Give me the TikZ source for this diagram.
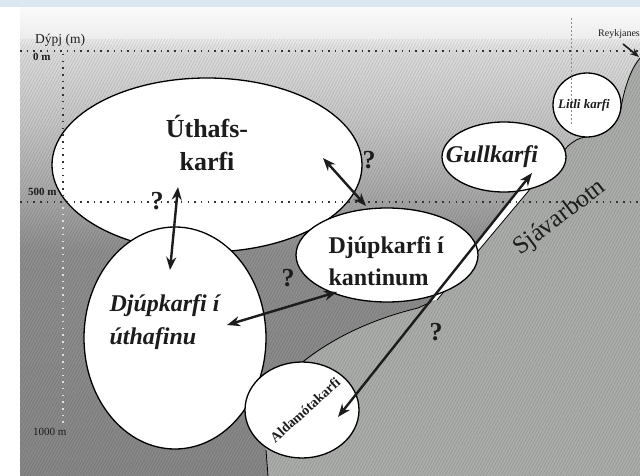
\documentclass[tikz,border=0pt]{standalone}
\usepackage{fontspec}
\setmainfont{Liberation Serif}
\usetikzlibrary{shapes.geometric,arrows.meta,patterns.meta}

\definecolor{bandblue}{HTML}{DCE8F1}
\definecolor{seabed}{HTML}{ABADAA}
\definecolor{ink}{HTML}{1C1C1C}
\definecolor{sdA}{HTML}{878787}
\definecolor{sdB}{HTML}{8E8E8E}
\definecolor{sdC}{HTML}{A6A6A6}
\definecolor{sdD}{HTML}{C6C6C6}
\definecolor{sdE}{HTML}{DADADA}
\definecolor{sdF}{HTML}{EEEEEE}
\definecolor{sdG}{HTML}{FAFAFA}

% water darkens with depth (listed bottom to top)
\pgfdeclareverticalshading{seadepth}{100bp}{color(0bp)=(sdA); color(25bp)=(sdA); color(49bp)=(sdB); color(54.5bp)=(sdC); color(63bp)=(sdD); color(70bp)=(sdE); color(72bp)=(sdF); color(75bp)=(sdG); color(100bp)=(sdG)}

\begin{document}
\begin{tikzpicture}[x=1pt,y=-1pt,
  blob/.style={ellipse,draw=black,fill=white,line width=1.3pt,inner sep=0pt},
  link/.style={ink,line width=2.4pt,>={Stealth[length=13pt,width=10pt]},<->},
  depthline/.style={line width=1.5pt,dash pattern=on 1.5pt off 5.2pt,draw=black!80},
  edgeline/.style={draw=black,line width=0.8pt},
  qmark/.style={font=\fontsize{26}{26}\selectfont\bfseries,text=ink,inner sep=0pt},
  bigbold/.style={font=\fontsize{24}{32}\selectfont\bfseries,text=ink},
  bigboldit/.style={font=\fontsize{24}{33}\selectfont\bfseries\itshape,text=ink},
  axislabel/.style={font=\fontsize{11}{11}\selectfont,text=ink,inner sep=0pt,anchor=west},
]
\useasboundingbox (0,0) rectangle (640,476);
\fill[white] (0,0) rectangle (640,476);
\fill[bandblue] (0,0) rectangle (640,7);

% water column
\shade[shading=seadepth] (20,8) rectangle (640,476);

% sea floor
\fill[seabed] (640,48) -- (640,476) -- (268,476) -- (266,449) -- (262,420) -- (300,366)
  .. controls (322,346) and (360,322) .. (418,308) -- (431,302) -- (437,300) -- (531,188) -- (568,146)
  .. controls (574,141) and (578,138) .. (586,137)
  .. controls (606,134) and (618,124) .. (621,108)
  .. controls (624,90) and (630,70) .. (640,58) -- cycle;

% faint print texture
\begin{scope}[transparency group,opacity=0.14]
  \fill[pattern={Lines[angle=62,distance=2.6pt,line width=0.5pt]},pattern color=black]
    (20,40) rectangle (640,476);
\end{scope}

% sea floor outline
\draw[edgeline] (266,450) -- (268,476);
\draw[edgeline] (300,364) .. controls (322,346) and (360,322) .. (418,308) -- (431,302);
\fill[white] (430,301) -- (522,186) -- (531,188) -- (437,300) -- cycle;
\draw[edgeline] (437,300) -- (531,188) -- (568,146);
\draw[edgeline] (568,146) .. controls (574,141) and (578,138) .. (586,137)
  .. controls (606,134) and (618,124) .. (621,108)
  .. controls (624,90) and (630,70) .. (640,58);

% population areas
\node[blob,minimum width=310pt,minimum height=174pt] (uthafs) at (207,165) {};
\node[blob,minimum width=182pt,minimum height=222pt] (uthafinu) at (175,338) {};
\node[blob,minimum width=182pt,minimum height=94pt] (kant) at (387,255) {};
\node[blob,minimum width=114pt,minimum height=96pt] (alda) at (302,410) {};
\node[blob,minimum width=124pt,minimum height=70pt] (gull) at (504,157) {};
\node[blob,minimum width=68pt,minimum height=64pt] (litli) at (587,105) {};

% depth grid
\draw[depthline] (20,51) -- (640,51);
\draw[depthline] (20,202) -- (640,202);
\draw[depthline] (63,54) -- (63,200);
\draw[depthline,draw=white!88!black] (63,207) -- (63,428);
\draw[black!45,line width=0.5pt,dash pattern=on 2pt off 2pt] (571,18) -- (571,126);

% labels
\node[font=\fontsize{26}{33}\selectfont\bfseries,text=ink,align=center] (t-uthafs) at (207,143) {Úthafs-\\karfi};
\node[bigboldit,align=left,anchor=west] (t-uthafinu) at (106,322) {Djúpkarfi í\\úthafinu};
\node[bigbold,align=left,anchor=west] (t-kant) at (325,261) {Djúpkarfi í\\kantinum};
\node[font=\fontsize{24}{24}\selectfont\bfseries\itshape,text=ink] (t-gull) at (492,157) {Gullkarfi};
\node[font=\fontsize{13}{13}\selectfont\bfseries\itshape,text=ink] (t-litli) at (584,105) {Litli karfi};
\node[font=\fontsize{14}{14}\selectfont\bfseries,text=ink,rotate=42] (t-alda) at (305,410) {Aldamótakarfi};
\node[font=\fontsize{25}{25}\selectfont,text=ink,rotate=37] (t-botn) at (560,218) {Sjávarbotn};
\node[axislabel,font=\fontsize{10}{10}\selectfont] (t-reyk) at (598,34) {Reykjanes};
\node[axislabel,font=\fontsize{13.5}{13.5}\selectfont] (t-depth) at (35,40) {Dýpj (m)};
\node[axislabel,font=\fontsize{11}{11}\selectfont\bfseries] (t-0) at (33,57) {0 m};
\node[axislabel,font=\fontsize{11}{11}\selectfont\bfseries] (t-500) at (28,192) {500 m};
\node[axislabel] (t-1000) at (33,432) {1000 m};

\node[qmark] (q1) at (157,201) {?};
\node[qmark] (q2) at (369,160) {?};
\node[qmark] (q3) at (288,278) {?};
\node[qmark] (q4) at (436,332) {?};

% migration links
\coordinate (a1) at (178,187);
\coordinate (a2) at (170,270);
\coordinate (b1) at (323,158);
\coordinate (b2) at (366,206);
\coordinate (c1) at (227,325);
\coordinate (c2) at (337,292);
\coordinate (d1) at (338,417);
\coordinate (d2) at (532,173);
\coordinate (r1) at (623,44);
\coordinate (r2) at (639,57);
\draw[link] (a1) -- (a2);
\draw[link] (b1) -- (b2);
\draw[link] (c1) -- (c2);
\draw[link] (d1) -- (d2);
\draw[ink,line width=1.6pt,-{Stealth[length=9pt,width=7pt]}] (r1) -- (r2);
\end{tikzpicture}
\end{document}
